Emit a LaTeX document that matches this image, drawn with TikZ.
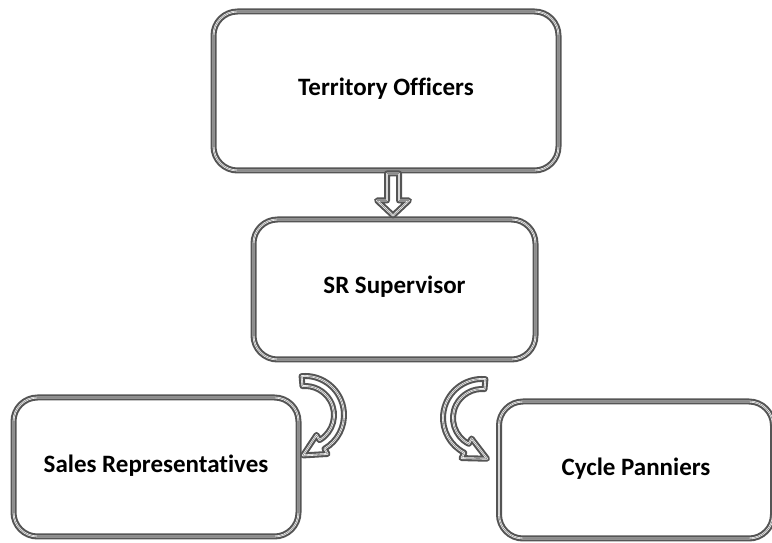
\documentclass[tikz,border=0pt]{standalone}
\usepackage{fontspec}
\setmainfont[Ligatures={NoCommon}]{Carlito}
\usetikzlibrary{calc}
\definecolor{boxdark}{RGB}{85,85,85}
\definecolor{boxmid}{RGB}{140,140,140}
\tikzset{
  outline/.style={draw=boxdark, line width=6pt,
    postaction={draw=white, line width=1.8pt},
    postaction={draw=boxmid, line width=0.6pt}},
  box/.style={outline, rounded corners=24pt, fill=white, align=center,
    font=\fontsize{25}{30}\selectfont\bfseries, inner sep=0pt},
  blockarrow/.style={outline, line width=6pt, fill=white, line join=round}
}
\begin{document}
\begin{tikzpicture}[x=1pt,y=1pt]
\useasboundingbox (0,0) rectangle (772,543);
\node[box, minimum width=345pt, minimum height=159pt] (top) at (386,452) {\raisebox{8pt}{Territory Officers}};
\node[box, minimum width=282pt, minimum height=140pt] (sup) at (394.5,253.5) {\raisebox{9pt}{SR Supervisor}};
\node[box, minimum width=285pt, minimum height=139pt] (sales) at (156,76) {\raisebox{7pt}{Sales Representatives}};
\node[box, minimum width=274pt, minimum height=137pt] (cycle) at (636,73) {\raisebox{7pt}{Cycle Panniers}};
% down arrow
\coordinate (d0) at (top.south -| 393,0);
\draw[blockarrow] ($(d0)+(-6,0)$) -- ($(d0)+(6,0)$) -- ($(d0)+(6,-27)$) -- ($(d0)+(16,-27)$)
  -- ($(d0)+(0,-42)$) -- ($(d0)+(-16,-27)$) -- ($(d0)+(-6,-27)$) -- cycle;
% left curved arrow
\coordinate (cl) at (305,128);
\draw[blockarrow] ($(cl)+(95:39)$) arc[start angle=95, end angle=-60, radius=39]
  -- ($(cl)+(-60:45)$) -- ($(cl)+(-60:34)+(-150:22)$) -- ($(cl)+(-60:23)$)
  -- ($(cl)+(-60:29)$) arc[start angle=-60, end angle=95, radius=29] -- cycle;
% right curved arrow
\coordinate (cr) at (482,125);
\draw[blockarrow] ($(cr)+(85:39)$) arc[start angle=85, end angle=243, radius=39]
  -- ($(cr)+(243:45)$) -- ($(cr)+(243:34)+(333:23)$) -- ($(cr)+(243:23)$)
  -- ($(cr)+(243:29)$) arc[start angle=243, end angle=85, radius=29] -- cycle;
\end{tikzpicture}
\end{document}
